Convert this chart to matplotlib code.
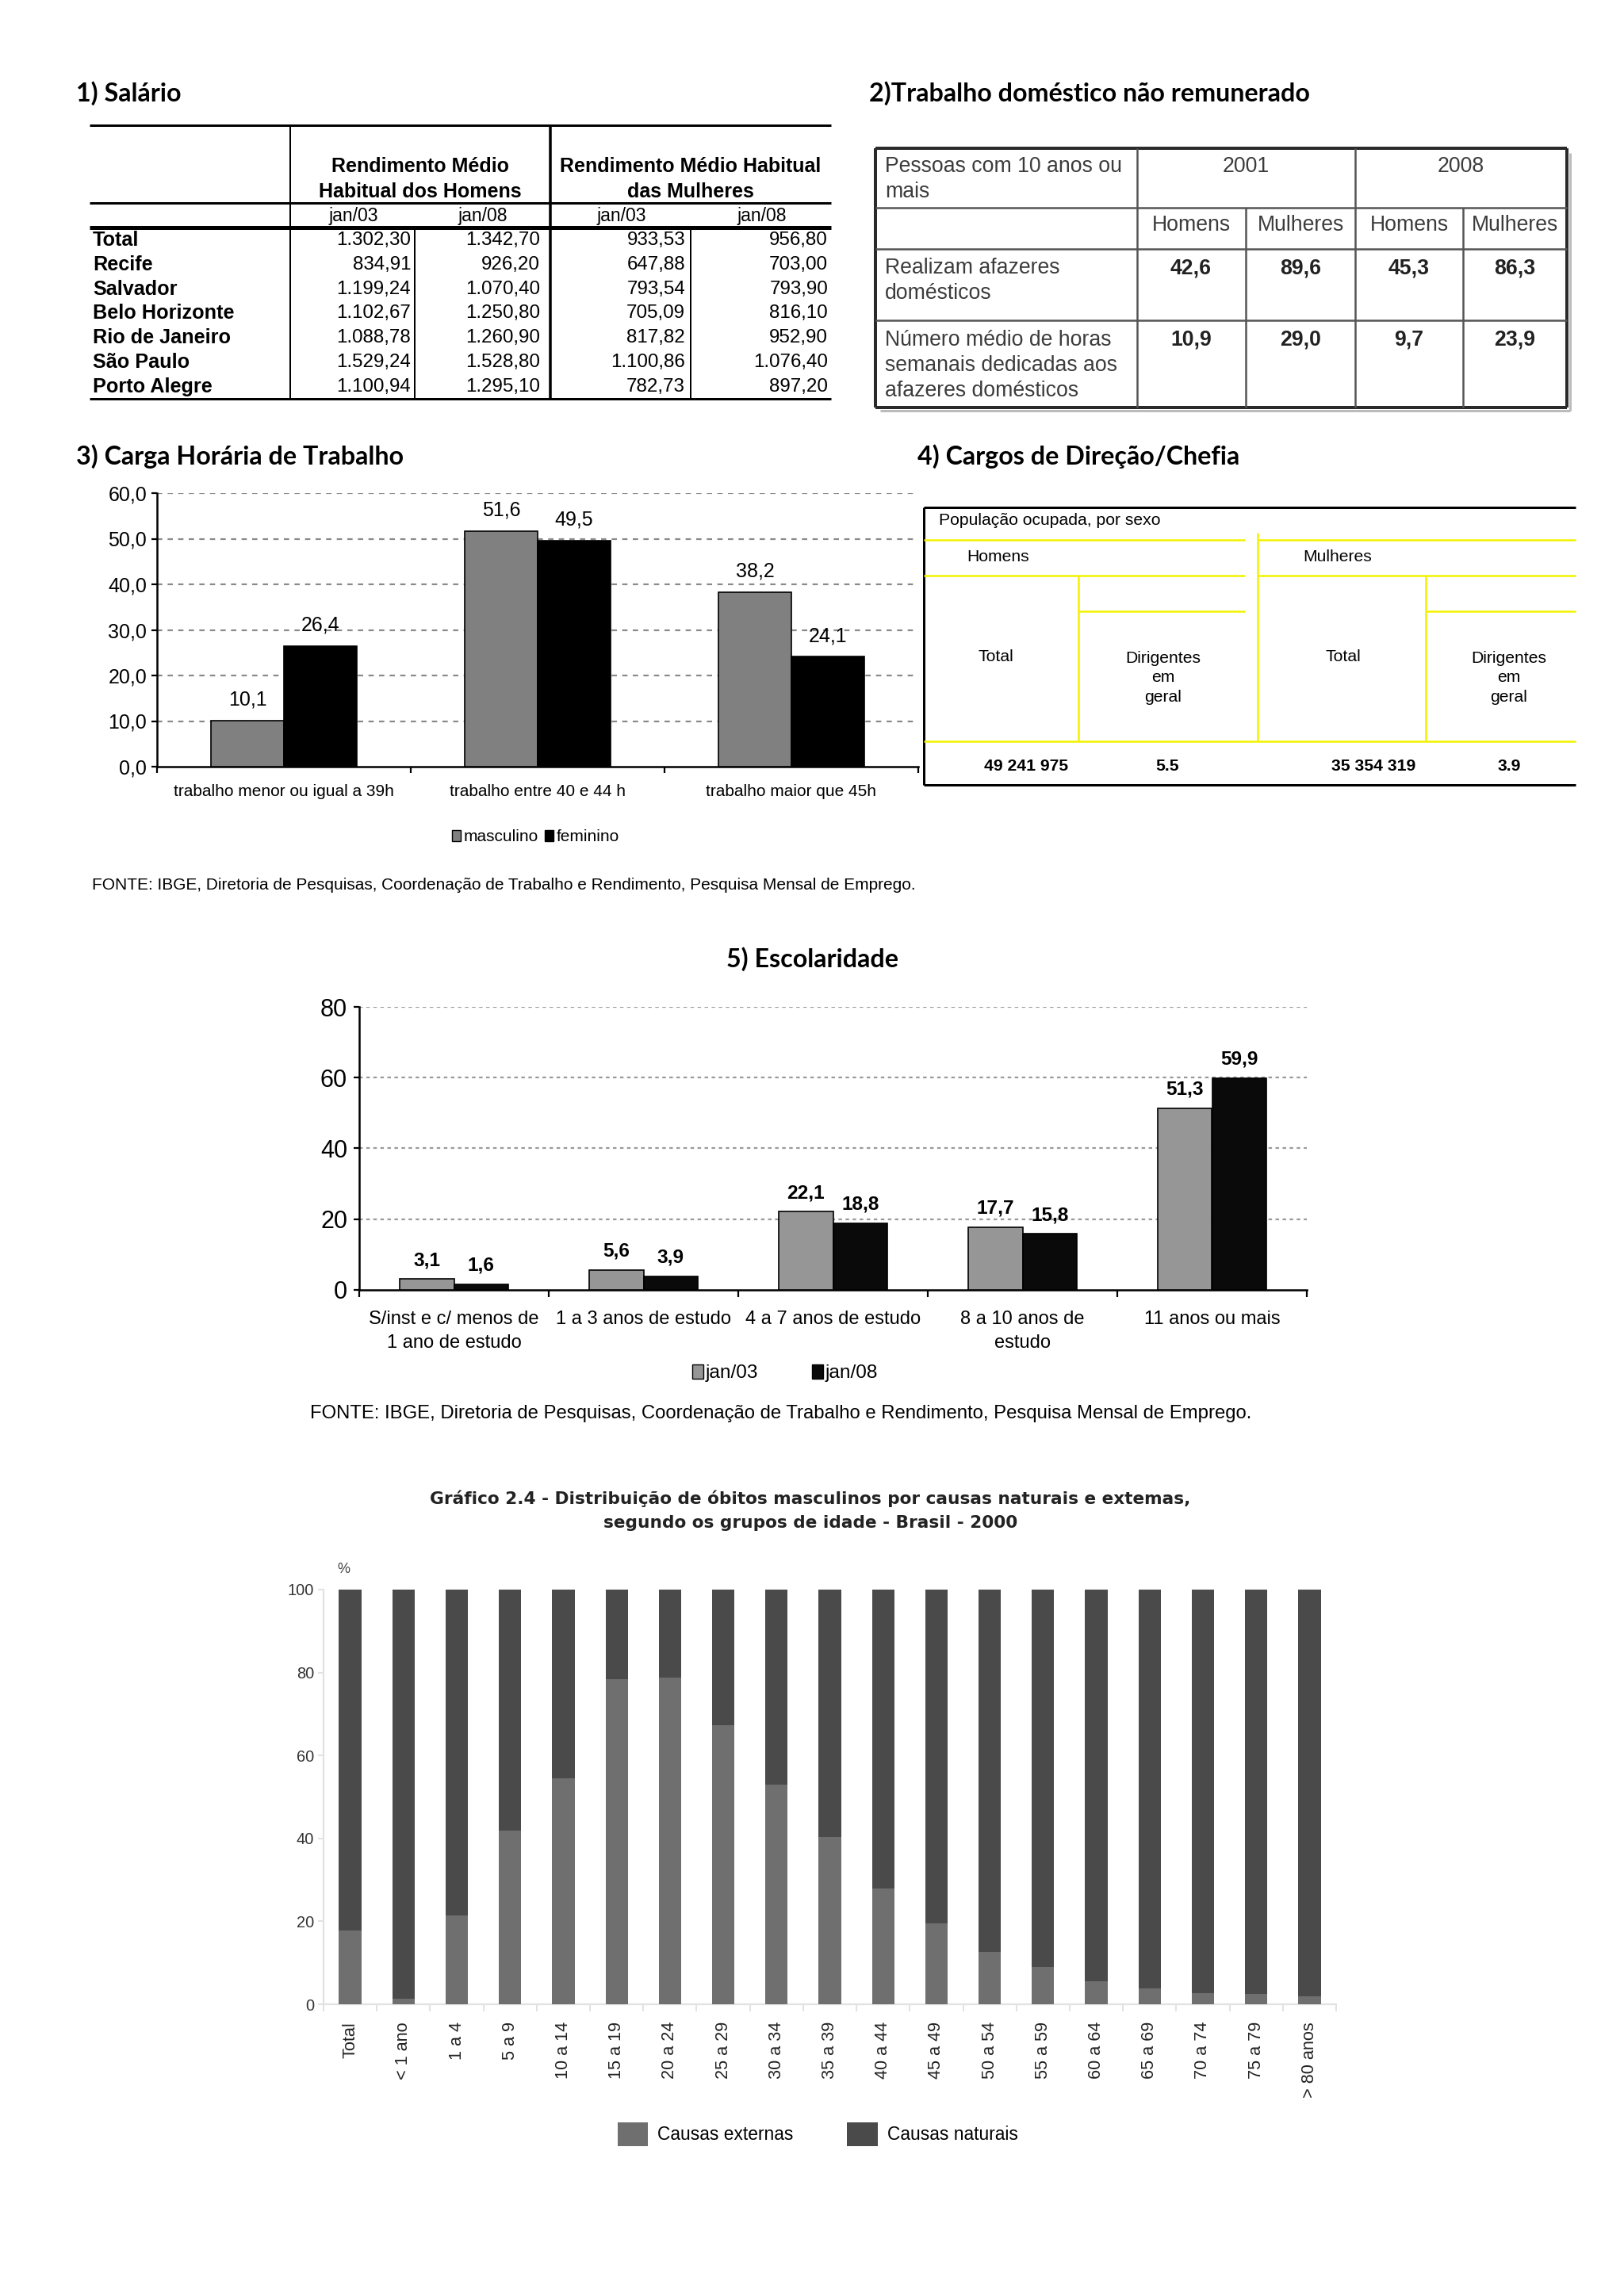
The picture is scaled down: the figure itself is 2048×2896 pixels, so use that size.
import matplotlib
matplotlib.use('Agg')
import matplotlib.pyplot as plt
from matplotlib import font_manager as fm
from matplotlib.patches import Patch

W, H = 2048, 2896
DPI = 200

avail = {f.name for f in fm.fontManager.ttflist}
def pick(*names):
    for n in names:
        if n in avail:
            return n
    return 'DejaVu Sans'

ARIAL = pick('Liberation Sans', 'DejaVu Sans')
NARROW = ARIAL
TITLEF = pick('Lato', 'Open Sans', 'DejaVu Sans')
WIDE = 'DejaVu Sans'

# ---------------- DATA ----------------
# 1) Salário
sal_cities = ["Total", "Recife", "Salvador", "Belo Horizonte", "Rio de Janeiro", "São Paulo", "Porto Alegre"]
sal_h_jan03 = [1302.30, 834.91, 1199.24, 1102.67, 1088.78, 1529.24, 1100.94]
sal_h_jan08 = [1342.70, 926.20, 1070.40, 1250.80, 1260.90, 1528.80, 1295.10]
sal_m_jan03 = [933.53, 647.88, 793.54, 705.09, 817.82, 1100.86, 782.73]
sal_m_jan08 = [956.80, 703.00, 793.90, 816.10, 952.90, 1076.40, 897.20]
sal_periods = ["jan/03", "jan/08", "jan/03", "jan/08"]

# 2) Trabalho doméstico
dom_years = ["2001", "2008"]
dom_sex = ["Homens", "Mulheres", "Homens", "Mulheres"]
dom_rows = ["Realizam afazeres\ndomésticos",
            "Número médio de horas\nsemanais dedicadas aos\nafazeres domésticos"]
dom_realizam = [42.6, 89.6, 45.3, 86.3]
dom_horas = [10.9, 29.0, 9.7, 23.9]

# 3) Carga horária
carga_cats = ["trabalho menor ou igual a 39h", "trabalho entre 40 e 44 h", "trabalho maior que 45h"]
carga_masc = [10.1, 51.6, 38.2]
carga_fem = [26.4, 49.5, 24.1]
carga_series = ["masculino", "feminino"]

# 4) Cargos de direção
cargos_sexo = ["Homens", "Mulheres"]
cargos_total = ["49 241 975", "35 354 319"]
cargos_dirig = ["5.5", "3.9"]

# 5) Escolaridade
esc_cats = ["S/inst e c/ menos de\n1 ano de estudo", "1 a 3 anos de estudo", "4 a 7 anos de estudo",
            "8 a 10 anos de\nestudo", "11 anos ou mais"]
esc_jan03 = [3.1, 5.6, 22.1, 17.7, 51.3]
esc_jan08 = [1.6, 3.9, 18.8, 15.8, 59.9]
esc_series = ["jan/03", "jan/08"]

# 6) Óbitos masculinos
idade = ["Total", "< 1 ano", "1 a 4", "5 a 9", "10 a 14", "15 a 19", "20 a 24", "25 a 29", "30 a 34",
         "35 a 39", "40 a 44", "45 a 49", "50 a 54", "55 a 59", "60 a 64", "65 a 69", "70 a 74",
         "75 a 79", "> 80 anos"]
obit_externas = [17.7, 1.4, 21.4, 41.9, 54.4, 78.4, 78.8, 67.3, 52.9, 40.3, 27.9, 19.5, 12.6, 8.9,
                 5.6, 3.8, 2.7, 2.4, 1.9]
obit_naturais = [82.3, 98.6, 78.6, 58.1, 46.1, 22.1, 21.7, 33.2, 47.1, 60.2, 72.1, 81.0, 87.9, 91.6,
                 94.4, 96.2, 97.8, 98.1, 98.6]
obit_series = ["Causas externas", "Causas naturais"]


def br(v, d=2):
    s = f"{v:,.{d}f}"
    return s.replace(',', 'X').replace('.', ',').replace('X', '.')


def px(p):  # pixel -> points
    return p * 72.0 / DPI


fig = plt.figure(figsize=(W / DPI, H / DPI), dpi=DPI)
fig.patch.set_facecolor('white')

ov = fig.add_axes([0, 0, 1, 1])
ov.set_xlim(0, W)
ov.set_ylim(H, 0)
ov.axis('off')


def hl(y, x0, x1, lw, c='black'):
    ov.plot([x0, x1], [y, y], color=c, lw=px(lw), solid_capstyle='butt')


def vl(x, y0, y1, lw, c='black'):
    ov.plot([x, x], [y0, y1], color=c, lw=px(lw), solid_capstyle='butt')


def T(x, y, s, size, family=ARIAL, weight='normal', ha='left', va='center', color='black', **kw):
    ov.text(x, y, s, fontsize=size, family=family, fontweight=weight, ha=ha, va=va, color=color, **kw)


def axes_px(x0, y0, x1, y1):
    return fig.add_axes([x0 / W, 1 - y1 / H, (x1 - x0) / W, (y1 - y0) / H])


# ---------------- section titles ----------------
TS = 11.6
T(96, 118, "1) Salário", TS, family=TITLEF, weight='bold')
T(1096, 118, "2)Trabalho doméstico não remunerado", TS, family=TITLEF, weight='bold')
T(96, 576, "3) Carga Horária de Trabalho", TS, family=TITLEF, weight='bold')
T(1157, 576, "4) Cargos de Direção/Chefia", TS, family=TITLEF, weight='bold')
T(1024, 1210, "5) Escolaridade", TS, family=TITLEF, weight='bold', ha='center')

# ---------------- 1) Salário table ----------------
L, R = 113, 1048
hl(158, L, R, 3)
hl(256, L, R, 3)
hl(287, L, R, 5)
hl(503, L, R, 3)
vl(366, 158, 503, 2)
vl(694, 158, 503, 3.5)
vl(523, 287, 503, 2)
vl(871, 287, 503, 2)
T(530, 210, "Rendimento Médio", 9, family=NARROW, weight='bold', ha='center')
T(530, 242, "Habitual dos Homens", 9, family=NARROW, weight='bold', ha='center')
T(871, 210, "Rendimento Médio Habitual", 9, family=NARROW, weight='bold', ha='center')
T(871, 242, "das Mulheres", 9, family=NARROW, weight='bold', ha='center')
for xc, lab in zip([446, 609, 784, 961], sal_periods):
    T(xc, 273, lab, 8.3, family=NARROW, ha='center')
col_right = [518, 681, 864, 1044]
for i, city in enumerate(sal_cities):
    y = 303 + i * 30.8
    T(117, y, city, 9.1, family=ARIAL, weight='bold')
    for xr, series in zip(col_right, [sal_h_jan03, sal_h_jan08, sal_m_jan03, sal_m_jan08]):
        T(xr, y, br(series[i]), 8.7, family=NARROW, ha='right')

# ---------------- 2) Trabalho doméstico table ----------------
BL, BR_, BT, BB = 1104, 1976, 187, 514
gray_txt = '#3c3c3c'
hl(BB + 4, BL + 6, BR_ + 4, 3, c='#bbbbbb')
vl(BR_ + 4, BT + 6, BB + 4, 3, c='#bbbbbb')
hl(BT, BL, BR_, 4, c='#2a2a2a')
hl(BB, BL, BR_, 4, c='#2a2a2a')
vl(BL, BT, BB, 4, c='#2a2a2a')
vl(BR_, BT, BB, 4, c='#2a2a2a')
for y in [262, 314, 404]:
    hl(y, BL, BR_, 2.5, c='#555555')
vl(1434, BT, BB, 2.5, c='#555555')
vl(1709, BT, BB, 2.5, c='#555555')
vl(1571, 262, BB, 2.5, c='#555555')
vl(1845, 262, BB, 2.5, c='#555555')
T(1116, 210, "Pessoas com 10 anos ou", 9.6, color=gray_txt)
T(1116, 242, "mais", 9.6, color=gray_txt)
T(1571, 210, dom_years[0], 9.6, ha='center', color=gray_txt)
T(1842, 210, dom_years[1], 9.6, ha='center', color=gray_txt)
ccent = [1502, 1640, 1777, 1910]
for xc, s in zip(ccent, dom_sex):
    T(xc, 284, s, 9.6, ha='center', color=gray_txt)
row_tops = [338, 429]
for r, (lab, vals) in enumerate(zip(dom_rows, [dom_realizam, dom_horas])):
    for k, line in enumerate(lab.split('\n')):
        T(1116, row_tops[r] + k * 32, line, 9.6, color=gray_txt)
    for xc, v in zip(ccent, vals):
        T(xc, row_tops[r], br(v, 1), 9.6, weight='bold', ha='center', color='#222222')

# ---------------- 4) Cargos table ----------------
YEL = '#f2f200'
cl, cr, ct, cb = 1165, 1987, 640, 990
hl(ct, cl, cr, 3)
hl(cb, cl, cr, 3)
vl(cl, ct, cb, 3)
hl(681, cl, 1570, 2.5, c=YEL)
hl(681, 1586, cr, 2.5, c=YEL)
vl(1586, 672, 935, 2.5, c=YEL)
hl(726, cl, 1570, 2.5, c=YEL)
hl(726, 1586, cr, 2.5, c=YEL)
vl(1360, 726, 935, 2.5, c=YEL)
vl(1798, 726, 935, 2.5, c=YEL)
hl(771, 1360, 1570, 2.5, c=YEL)
hl(771, 1798, cr, 2.5, c=YEL)
hl(935, cl, cr, 2.5, c=YEL)
T(1184, 657, "População ocupada, por sexo", 7.6, family=NARROW)
T(1219, 703, cargos_sexo[0], 7.6, family=NARROW)
T(1643, 703, cargos_sexo[1], 7.6, family=NARROW)
for xc_tot, xc_dir in zip([1256, 1694], [1467, 1903]):
    T(xc_tot, 829, "Total", 7.6, family=NARROW, ha='center')
    T(xc_dir, 855, "Dirigentes\nem\ngeral", 7.6, family=NARROW, ha='center', linespacing=1.35)
for xc, s in zip([1294, 1472, 1732, 1903], [cargos_total[0], cargos_dirig[0], cargos_total[1], cargos_dirig[1]]):
    T(xc, 966, s, 7.6, family=NARROW, weight='bold', ha='center')

# ---------------- 3) Carga horária chart ----------------
ax3 = axes_px(198, 622, 1158, 967)
n3 = len(carga_cats)
bw3 = 0.287
xs = [i + 0.5 for i in range(n3)]
ax3.bar([x - bw3 / 2 for x in xs], carga_masc, bw3, color='#808080', edgecolor='black', lw=0.6,
        label=carga_series[0], zorder=3)
ax3.bar([x + bw3 / 2 for x in xs], carga_fem, bw3, color='black', edgecolor='black', lw=0.6,
        label=carga_series[1], zorder=3)
for x, v in zip(xs, carga_masc):
    ax3.annotate(br(v, 1), (x - bw3 / 2, v), xytext=(0, 9.5), textcoords='offset points', ha='center',
                 va='center', fontsize=9, family=NARROW)
for x, v in zip(xs, carga_fem):
    ax3.annotate(br(v, 1), (x + bw3 / 2, v), xytext=(0, 9.5), textcoords='offset points', ha='center',
                 va='center', fontsize=9, family=NARROW)
ax3.set_xlim(0, n3)
ax3.set_ylim(0, 60)
ax3.set_yticks(range(0, 61, 10))
ax3.set_yticklabels([br(v, 1) for v in range(0, 61, 10)], fontsize=9, family=NARROW)
ax3.set_xticks(range(0, n3 + 1))
ax3.set_xticklabels([])
ax3.set_xticks(xs, minor=True)
ax3.set_xticklabels(carga_cats, minor=True, fontsize=7.5, family=NARROW)
ax3.tick_params(axis='x', which='major', length=px(8), width=0.8, direction='out')
ax3.tick_params(axis='x', which='minor', length=0, pad=px(22))
ax3.tick_params(axis='y', length=px(7), width=0.8, pad=px(6))
for y in range(10, 61, 10):
    ax3.axhline(y, color='#8a8a8a', lw=0.8, ls=(0, (3, 3)), zorder=1)
for s in ['top', 'right']:
    ax3.spines[s].set_visible(False)
ax3.spines['left'].set_linewidth(0.9)
ax3.spines['bottom'].set_linewidth(0.9)
ax3.set_facecolor('none')
fig.legend(handles=[Patch(facecolor='#808080', edgecolor='black', lw=0.5),
                    Patch(facecolor='black', edgecolor='black', lw=0.5)],
           labels=carga_series, loc='center', bbox_to_anchor=(675 / W, 1 - 1056 / H), ncol=2,
           frameon=False, handlelength=0.55, handleheight=0.7, handletextpad=0.15, columnspacing=0.4,
           prop={'family': NARROW, 'size': 7.5})
T(116, 1116, "FONTE: IBGE, Diretoria de Pesquisas, Coordenação de Trabalho e Rendimento, Pesquisa Mensal de Emprego.",
  7.5, family=NARROW)

# ---------------- 5) Escolaridade chart ----------------
ax5 = axes_px(453, 1270, 1648, 1627)
n5 = len(esc_cats)
bw5 = 0.287
xs5 = [i + 0.5 for i in range(n5)]
ax5.bar([x - bw5 / 2 for x in xs5], esc_jan03, bw5, color='#969696', edgecolor='black', lw=0.6, zorder=3)
ax5.bar([x + bw5 / 2 for x in xs5], esc_jan08, bw5, color='#0a0a0a', edgecolor='black', lw=0.6, zorder=3)
for x, v in zip(xs5, esc_jan03):
    ax5.annotate(br(v, 1), (x - bw5 / 2, v), xytext=(0, 8.5), textcoords='offset points', ha='center',
                 va='center', fontsize=8.8, family=NARROW, fontweight='bold')
for x, v in zip(xs5, esc_jan08):
    ax5.annotate(br(v, 1), (x + bw5 / 2, v), xytext=(0, 8.5), textcoords='offset points', ha='center',
                 va='center', fontsize=8.8, family=NARROW, fontweight='bold')
ax5.set_xlim(0, n5)
ax5.set_ylim(0, 80)
ax5.set_yticks(range(0, 81, 20))
ax5.set_yticklabels([str(v) for v in range(0, 81, 20)], fontsize=11, family=NARROW)
ax5.set_xticks(range(0, n5 + 1))
ax5.set_xticklabels([])
ax5.set_xticks(xs5, minor=True)
ax5.set_xticklabels(esc_cats, minor=True, fontsize=8.5, family=NARROW, va='top', linespacing=1.45)
ax5.tick_params(axis='x', which='major', length=px(9), width=0.8, direction='out')
ax5.tick_params(axis='x', which='minor', length=0, pad=px(26))
ax5.tick_params(axis='y', length=px(7), width=0.8, pad=px(8))
for y in range(20, 81, 20):
    ax5.axhline(y, color='#9a9a9a', lw=0.8, ls=(0, (2, 2)), zorder=1)
for s in ['top', 'right']:
    ax5.spines[s].set_visible(False)
ax5.spines['left'].set_linewidth(0.9)
ax5.spines['bottom'].set_linewidth(0.9)
ax5.set_facecolor('none')
fig.legend(handles=[Patch(facecolor='#969696', edgecolor='black', lw=0.5),
                    Patch(facecolor='#0a0a0a', edgecolor='black', lw=0.5)],
           labels=esc_series, loc='center', bbox_to_anchor=(990 / W, 1 - 1732 / H), ncol=2,
           frameon=False, handlelength=0.55, handleheight=0.8, handletextpad=0.1, columnspacing=2.8,
           prop={'family': NARROW, 'size': 8.8})
T(391, 1783, "FONTE: IBGE, Diretoria de Pesquisas, Coordenação de Trabalho e Rendimento, Pesquisa Mensal de Emprego.",
  8.6, family=NARROW)

# ---------------- 6) Óbitos chart ----------------
T(1022, 1890, "Gráfico 2.4 - Distribuição de óbitos masculinos por causas naturais e extemas,", 7.8,
  family=WIDE, weight='bold', ha='center', color='#222222')
T(1022, 1921, "segundo os grupos de idade - Brasil - 2000", 7.8, family=WIDE, weight='bold', ha='center',
  color='#222222')
T(433, 1979, "%", 6.5, family=ARIAL, ha='center', color='#444444')
ax6 = axes_px(408, 2005, 1685, 2528)
n6 = len(idade)
xs6 = [i + 0.5 for i in range(n6)]
bw6 = 0.42
C_EXT, C_NAT = '#6f6f6f', '#4a4a4a'
ax6.bar(xs6, obit_externas, bw6, color=C_EXT, lw=0, zorder=3)
ax6.bar(xs6, obit_naturais, bw6, bottom=obit_externas, color=C_NAT, lw=0, zorder=3)
ax6.set_xlim(0, n6)
ax6.set_ylim(0, 100)
ax6.set_yticks(range(0, 101, 20))
ax6.set_yticklabels([str(v) for v in range(0, 101, 20)], fontsize=7.2, family=ARIAL, color='#333333')
ax6.set_xticks(range(0, n6 + 1))
ax6.set_xticklabels([])
ax6.set_xticks(xs6, minor=True)
ax6.set_xticklabels(idade, minor=True, fontsize=7.8, family=NARROW, rotation=90, va='top', color='#222222')
ax6.tick_params(axis='x', which='major', length=px(9), width=0.6, color='#dddddd')
ax6.tick_params(axis='x', which='minor', length=0, pad=px(22))
ax6.tick_params(axis='y', length=px(7), width=0.6, color='#dddddd', pad=px(5))
for s in ['top', 'right']:
    ax6.spines[s].set_visible(False)
for s in ['left', 'bottom']:
    ax6.spines[s].set_color('#e2e2e2')
    ax6.spines[s].set_linewidth(0.8)
ax6.set_facecolor('none')
fig.legend(handles=[Patch(facecolor=C_EXT, lw=0), Patch(facecolor=C_NAT, lw=0)],
           labels=obit_series, loc='center', bbox_to_anchor=(1031 / W, 1 - 2692 / H), ncol=2,
           frameon=False, handlelength=1.7, handleheight=1.7, handletextpad=0.5, columnspacing=3.0,
           prop={'family': ARIAL, 'size': 8.2})

fig.savefig('out.png', dpi=DPI, facecolor='white')
